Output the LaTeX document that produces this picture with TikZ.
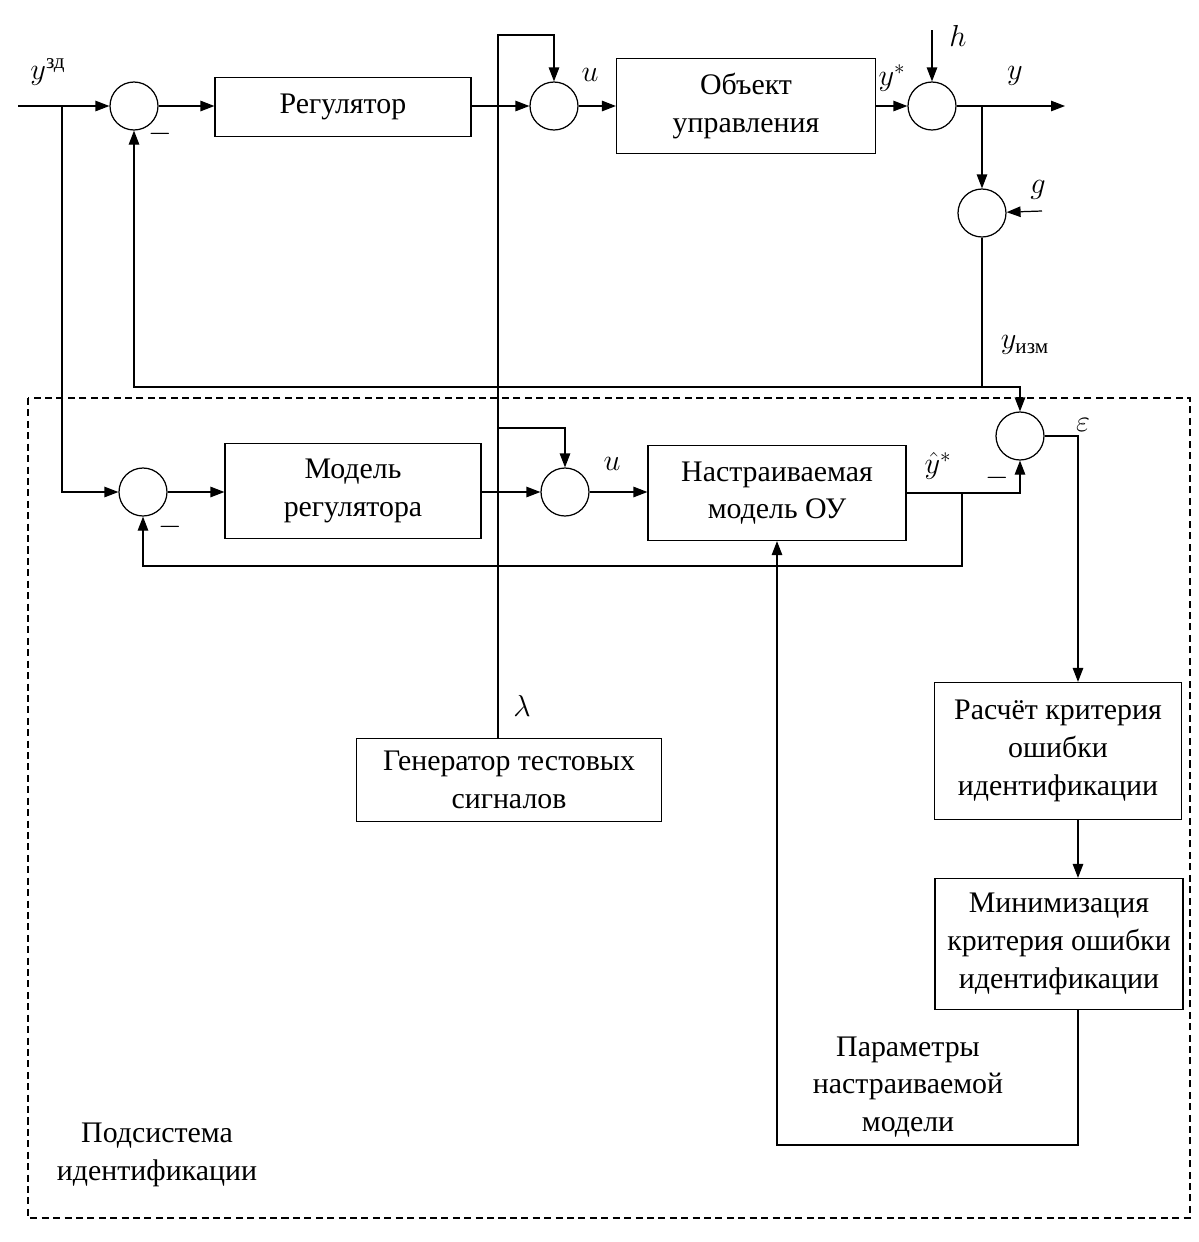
\documentclass[tikz,border=0pt]{standalone}
\usepackage{amsmath}
\usepackage{fontspec}
\setmainfont{Liberation Serif}
\usepackage{tikz}
\usetikzlibrary{arrows.meta,calc}

\begin{document}
\begin{tikzpicture}[
  x=0.02cm, y=-0.02cm,
  line width=0.7pt,
  box/.style={draw, align=center, font=\fontsize{17}{21.5}\selectfont, inner sep=2pt, fill=white},
  sum/.style={draw, circle, minimum size=0.96cm, inner sep=0pt},
  arr/.style={-{Triangle[length=2.8mm,width=2.1mm]}},
  lbl/.style={font=\LARGE, inner sep=1pt},
  txt/.style={align=center, font=\fontsize{17}{21.5}\selectfont},
  frame/.style={draw, dashed, dash pattern=on 4pt off 2.5pt}
]
\useasboundingbox (0,0) rectangle (1199,1242);
% --- main loop (top row) ---
\node[sum] (s1) at (134,106) {};
\node[box, minimum width=5.12cm, minimum height=1.18cm] (reg) at (343,107) {Регулятор};
\node[sum] (s2) at (554,106) {};
\node[box, minimum width=5.18cm, minimum height=1.9cm] (obj) at (746,106) {Объект\\управления};
\node[sum] (s4) at (932,106) {};
\node[sum] (s5) at (982,213) {};
% --- identification subsystem ---
\node[sum] (s3) at (143,492) {};
\node[box, minimum width=5.12cm, minimum height=1.9cm] (mreg) at (353,491) {Модель\\регулятора};
\node[sum] (s7) at (565,492) {};
\node[box, minimum width=5.16cm, minimum height=1.9cm] (nmod) at (777,493) {Настраиваемая\\модель ОУ};
\node[sum] (s6) at (1020,436) {};
\node[box, minimum width=6.1cm, minimum height=1.66cm] (gen) at (509,780) {Генератор тестовых\\сигналов};
\node[box, minimum width=4.94cm, minimum height=2.74cm] (crit) at (1058,751) {Расчёт критерия\\ошибки\\идентификации};
\node[box, minimum width=4.96cm, minimum height=2.62cm] (minim) at (1059,944) {Минимизация\\критерия ошибки\\идентификации};
% --- helper points ---
\coordinate (in)  at (18,106);
\coordinate (out) at (1065,106);
\coordinate (hin) at (932,30);
\coordinate (gin) at (1042,211);
\coordinate (br)  at (62,106);
\coordinate (fb)  at (982,387);
\coordinate (lt)  at (498,35);
\coordinate (lb)  at (498,428);
\coordinate (mb)  at (962,493);
\coordinate (mf)  at (962,566);
\coordinate (ec)  at (1078,436);
\coordinate (pb)  at (1078,1145);
% --- main loop ---
\draw[arr] (in) -- (s1);
\draw[arr] (s1) -- (s1 -| reg.west);
\draw[arr] (reg.east |- s2) -- (s2);
\draw[arr] (s2) -- (obj);
\draw[arr] (obj) -- (s4);
\draw[arr] (s4) -- (out);
\draw[arr] (hin) -- (s4);
\draw[arr] (s5 |- s4) -- (s5);
\draw[arr] (gin) -- (s5);
\draw (s5) -- (fb);
\draw[arr] (fb) -| (s1);
\draw[arr] (fb) -| (s6);
% --- test signal ---
\draw[arr] (gen.north -| lt) -- (lt) -| (s2);
\draw[arr] (lb) -| (s7);
% --- model loop ---
\draw[arr] (br) |- (s3);
\draw[arr] (s3) -- (s3 -| mreg.west);
\draw[arr] (mreg.east |- s7) -- (s7);
\draw[arr] (s7) -- (s7 -| nmod.west);
\draw[arr] (nmod.east |- mb) -| (s6);
\draw[arr] (mb) -- (mf) -| (s3);
% --- criterion and tuning ---
\draw[arr] (s6) -- (ec) -- (ec |- crit.north);
\draw[arr] (ec |- crit.south) -- (ec |- minim.north);
\draw[arr] (ec |- minim.south) -- (pb) -| (nmod.south);
% --- signal labels ---
\node[lbl] (lyzd) at (48,72)   {$y^{\text{зд}}$};
\node[lbl] (lm1)  at (160,134) {$-$};
\node[lbl] (lu1)  at (590,75)  {$u$};
\node[lbl] (lys)  at (892,78)  {$y^{*}$};
\node[lbl] (lh)   at (958,36)  {$h$};
\node[lbl] (ly)   at (1015,76) {$y$};
\node[lbl] (lg)   at (1038,190) {$g$};
\node[lbl] (lyizm) at (1025,345) {$y_{\text{изм}}$};
\node[lbl] (leps) at (1083,425) {$\varepsilon$};
\node[lbl] (lm2)  at (997,478) {$-$};
\node[lbl] (lyh)  at (938,466) {$\hat{y}^{*}$};
\node[lbl] (lu2)  at (612,464) {$u$};
\node[lbl] (lm3)  at (170,527) {$-$};
\node[lbl] (llam) at (522,706) {$\lambda$};
\node[txt] (lpar) at (908,1087) {Параметры\\настраиваемой\\модели};
\node[txt] (lsub) at (157,1155) {Подсистема\\идентификации};
% --- subsystem boundary ---
\draw[frame] (28,398) rectangle (1190,1218);
\end{tikzpicture}
\end{document}
